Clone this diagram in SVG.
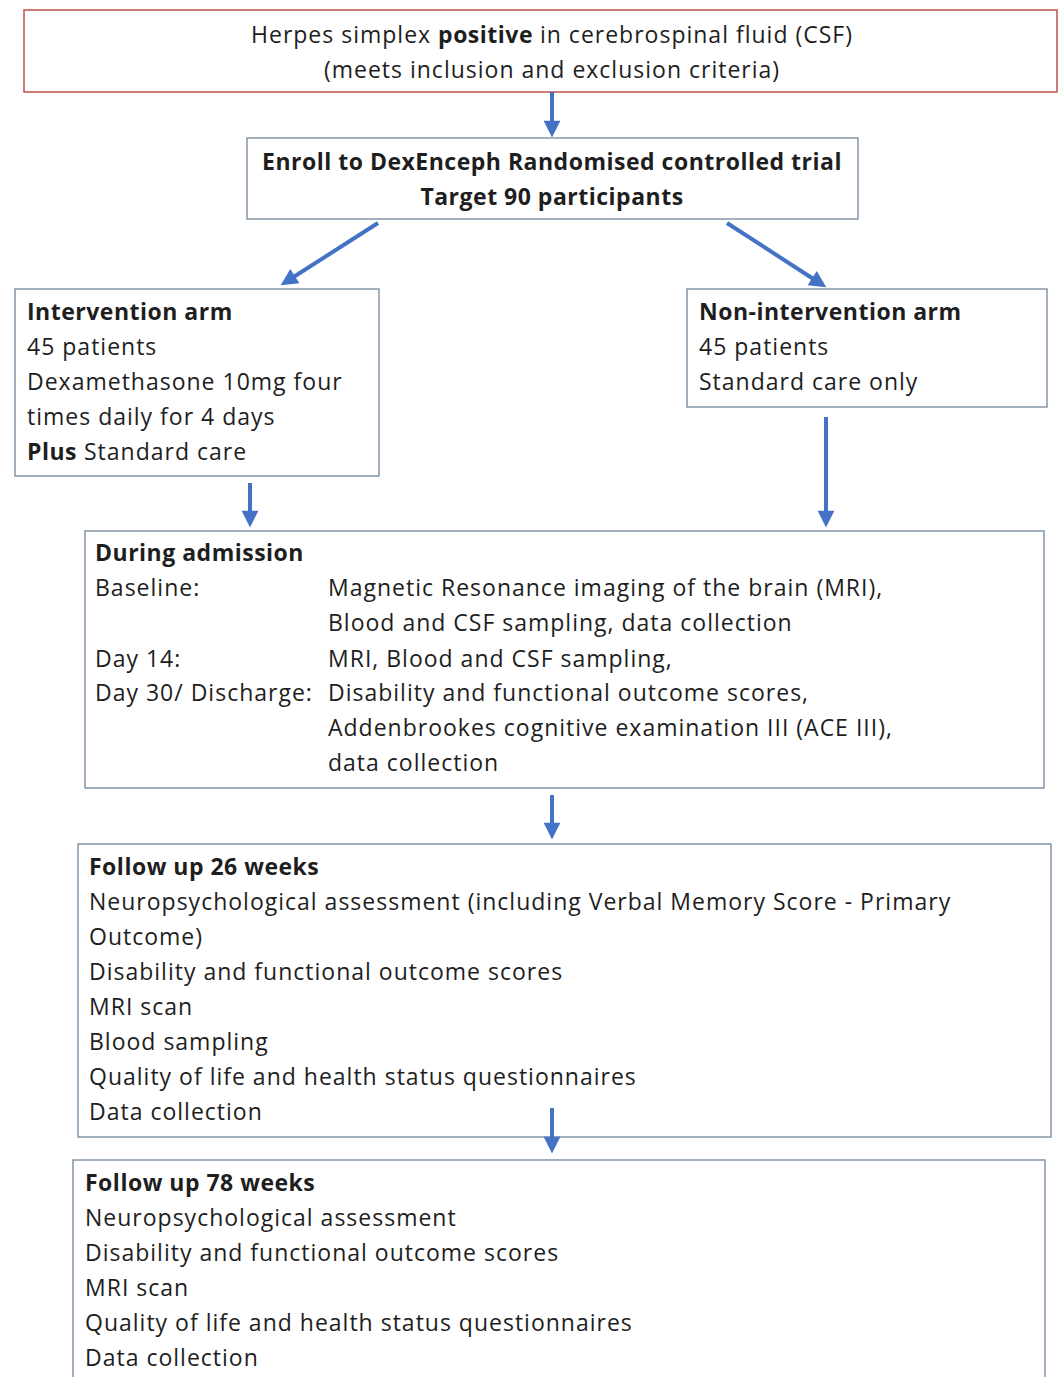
<svg xmlns="http://www.w3.org/2000/svg" width="1059" height="1377" viewBox="0 0 1059 1377">
<style>
text{font-family:"Open Sans","Noto Sans","Liberation Sans",sans-serif;font-size:23px;fill:#1e1e1e;letter-spacing:1px}
.b{font-weight:bold;letter-spacing:0.5px}
.box{fill:#fff;stroke:#8497a8;stroke-width:1.5}
.red{fill:#fff;stroke:#c0504d;stroke-width:1.5}
.c{text-anchor:middle}
.arr{stroke:#4472c4;stroke-width:4;fill:none;marker-end:url(#ah)}
</style>
<defs>
<marker id="ah" viewBox="0 0 10 10" refX="2" refY="5" markerWidth="4.5" markerHeight="4.2" orient="auto" markerUnits="strokeWidth">
<path d="M0,0 L10,5 L0,10 z" fill="#4472c4"/>
</marker>
</defs>
<rect width="1059" height="1377" fill="#fff"/>
<g id="n1">
<rect class="red" x="24" y="10" width="1033" height="82"/>
<text class="c" x="552" y="43">Herpes simplex <tspan class="b">positive</tspan> in cerebrospinal fluid (CSF)</text>
<text class="c" x="552" y="78">(meets inclusion and exclusion criteria)</text>
</g>
<g id="n2">
<rect class="box" x="247" y="138" width="611" height="81"/>
<text class="c b" x="552" y="170">Enroll to DexEnceph Randomised controlled trial</text>
<text class="c b" x="552" y="205">Target 90 participants</text>
</g>
<g id="n3">
<rect class="box" x="15" y="289" width="364" height="187"/>
<text class="b" x="27" y="320">Intervention arm</text>
<text x="27" y="355">45 patients</text>
<text x="27" y="390">Dexamethasone 10mg four</text>
<text x="27" y="425">times daily for 4 days</text>
<text x="27" y="460"><tspan class="b">Plus</tspan> Standard care</text>
</g>
<g id="n4">
<rect class="box" x="687" y="289" width="360" height="118"/>
<text class="b" x="699" y="320">Non-intervention arm</text>
<text x="699" y="355">45 patients</text>
<text x="699" y="390">Standard care only</text>
</g>
<g id="n5">
<rect class="box" x="85" y="531" width="959" height="257"/>
<text class="b" x="95" y="561">During admission</text>
<text x="95" y="596">Baseline:</text>
<text x="328" y="596">Magnetic Resonance imaging of the brain (MRI),</text>
<text x="328" y="631">Blood and CSF sampling, data collection</text>
<text x="95" y="667">Day 14:</text>
<text x="328" y="667">MRI, Blood and CSF sampling,</text>
<text x="95" y="701">Day 30/ Discharge:</text>
<text x="328" y="701">Disability and functional outcome scores,</text>
<text x="328" y="736">Addenbrookes cognitive examination III (ACE III),</text>
<text x="328" y="771">data collection</text>
</g>
<g id="n6">
<rect class="box" x="78" y="844" width="973" height="293"/>
<text class="b" x="89" y="875">Follow up 26 weeks</text>
<text x="89" y="910">Neuropsychological assessment (including Verbal Memory Score - Primary</text>
<text x="89" y="945">Outcome)</text>
<text x="89" y="980">Disability and functional outcome scores</text>
<text x="89" y="1015">MRI scan</text>
<text x="89" y="1050">Blood sampling</text>
<text x="89" y="1085">Quality of life and health status questionnaires</text>
<text x="89" y="1120">Data collection</text>
</g>
<g id="n7">
<rect class="box" x="73" y="1160" width="972" height="230"/>
<text class="b" x="85" y="1191">Follow up 78 weeks</text>
<text x="85" y="1226">Neuropsychological assessment</text>
<text x="85" y="1261">Disability and functional outcome scores</text>
<text x="85" y="1296">MRI scan</text>
<text x="85" y="1331">Quality of life and health status questionnaires</text>
<text x="85" y="1366">Data collection</text>
</g>
<g id="connectors">
<line class="arr" x1="552" y1="92" x2="552" y2="124"/>
<line class="arr" x1="378" y1="223" x2="292" y2="278"/>
<line class="arr" x1="727" y1="223" x2="815" y2="280"/>
<line class="arr" x1="250" y1="483" x2="250" y2="514"/>
<line class="arr" x1="826" y1="417" x2="826" y2="514"/>
<line class="arr" x1="552" y1="795" x2="552" y2="826"/>
<line class="arr" x1="552" y1="1108" x2="552" y2="1140"/>
</g>
</svg>
